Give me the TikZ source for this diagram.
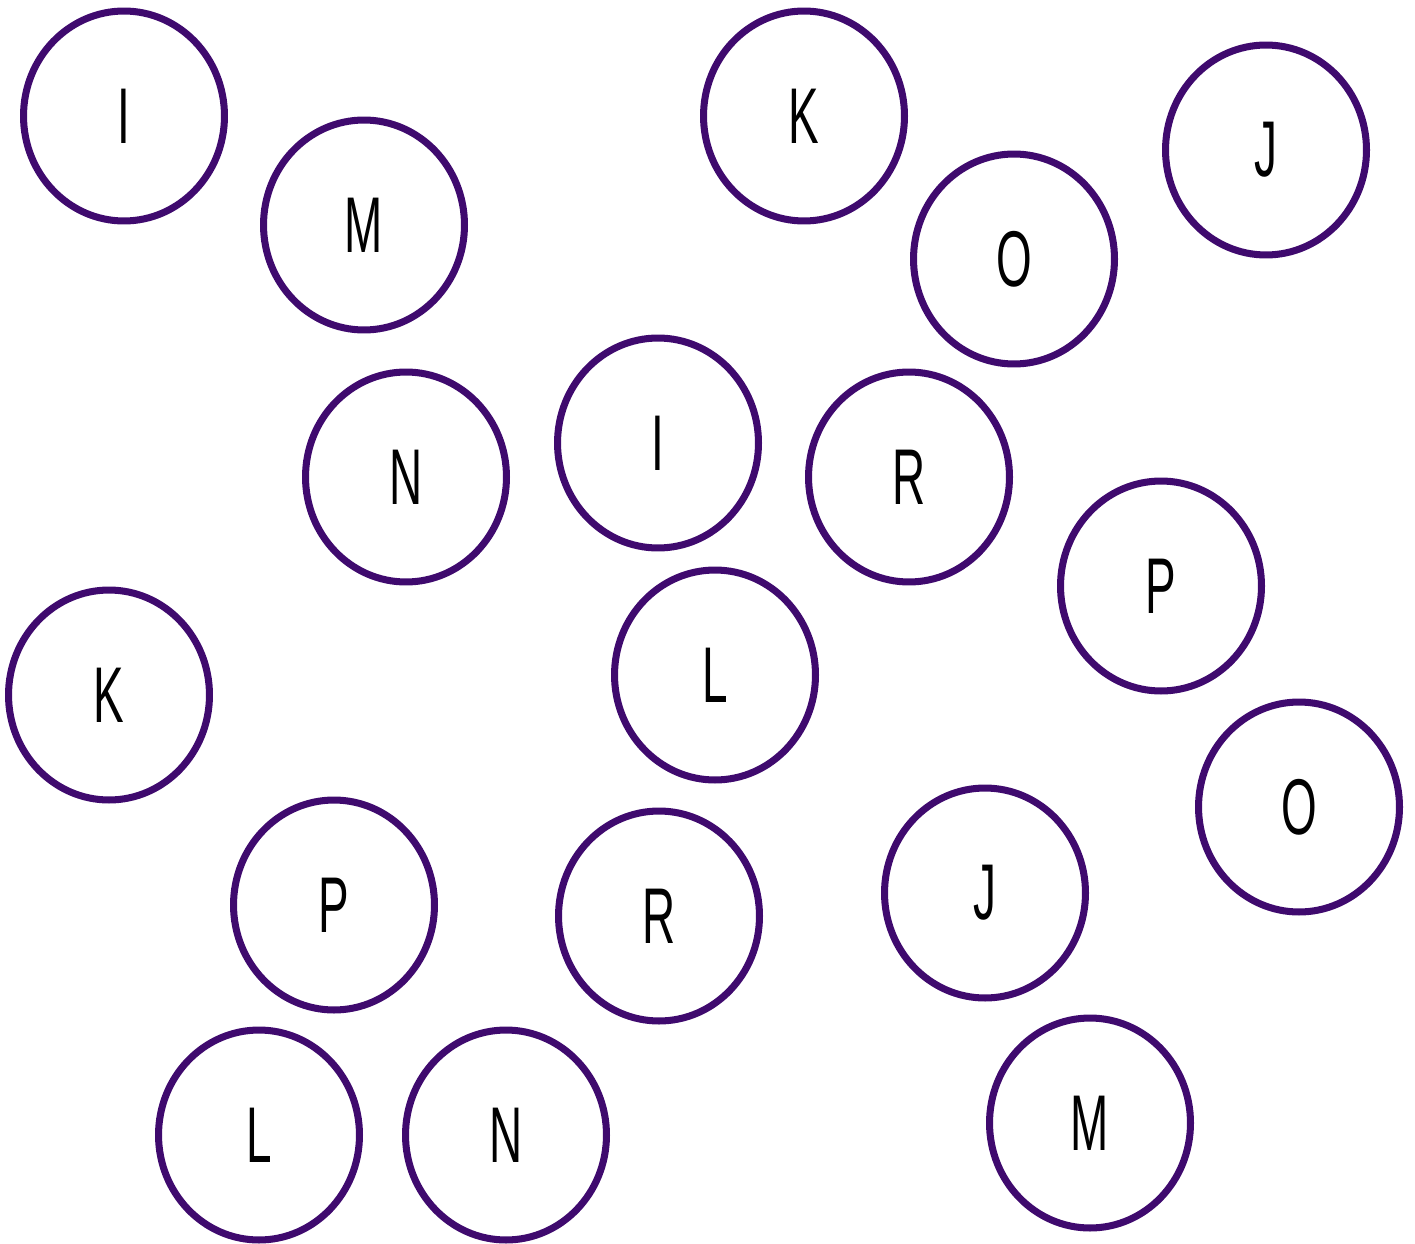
\documentclass[tikz,border=0pt]{standalone}
\usepackage{fontspec}
\usepackage{graphicx}
\setmainfont{Liberation Sans}
\usetikzlibrary{shapes.geometric}
\definecolor{ringpurple}{HTML}{3F0A6E}
\newcommand{\ltr}[1]{\scalebox{0.58}[1]{#1}}
\tikzset{
  ring/.style={ellipse, draw=ringpurple, line width=4pt, minimum width=4.02cm,
    minimum height=4.2cm, inner sep=0pt, font=\fontsize{45}{45}\selectfont, text=black}
}

\begin{document}
\begin{tikzpicture}[x=0.02cm, y=-0.02cm]
\useasboundingbox (0,0) rectangle (1415,1243);
\node[ring] (i1) at (124,116) {\ltr{I}};
\node[ring] (m1) at (364,225) {\ltr{M}};
\node[ring] (k1) at (804,116) {\ltr{K}};
\node[ring] (j1) at (1266,150) {\ltr{J}};
\node[ring] (o1) at (1014,259) {\ltr{O}};
\node[ring] (n1) at (406,477) {\ltr{N}};
\node[ring] (i2) at (658,443) {\ltr{I}};
\node[ring] (r1) at (909,477) {\ltr{R}};
\node[ring] (p1) at (1161,586) {\ltr{P}};
\node[ring] (k2) at (109,695) {\ltr{K}};
\node[ring] (l1) at (715,675) {\ltr{L}};
\node[ring] (o2) at (1299,807) {\ltr{O}};
\node[ring] (p2) at (334,905) {\ltr{P}};
\node[ring] (r2) at (659,916) {\ltr{R}};
\node[ring] (j2) at (985,893) {\ltr{J}};
\node[ring] (l2) at (259,1135) {\ltr{L}};
\node[ring] (n2) at (506,1135) {\ltr{N}};
\node[ring] (m2) at (1090,1123) {\ltr{M}};
\end{tikzpicture}
\end{document}
